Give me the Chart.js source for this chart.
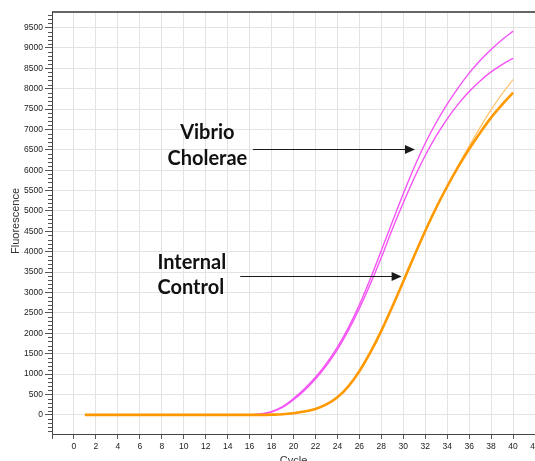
<!DOCTYPE html>
<html>
<head>
<meta charset="utf-8">
<script src="https://cdn.jsdelivr.net/npm/chart.js@4.4.0/dist/chart.umd.min.js"></script>
<style>
  html, body { margin: 0; padding: 0; background: #fff; overflow: hidden; }
</style>
</head>
<body>
<canvas id="graficoPcr" width="535" height="461"></canvas>
<script>
// ciclos da PCR (eixo x)
const ciclos = [1, 2, 3, 4, 5, 6, 7, 8, 9, 10, 11, 12, 13, 14, 15, 16, 17, 18, 19, 20,
  21, 22, 23, 24, 25, 26, 27, 28, 29, 30, 31, 32, 33, 34, 35, 36, 37, 38, 39, 40];

// fluorescencia
const controleInterno = [0, 0, 0, 0, 0, 0, 0, 0, 0, 0, 0, 0, 0, 0, 0, 0, 0, 5, 15, 40,
  80, 145, 255, 430, 700, 1070, 1530, 2060, 2650, 3270, 3900, 4510, 5080, 5600, 6080, 6520, 6920, 7290, 7610, 7900];
const controleInterno2 = [0, 0, 0, 0, 0, 0, 0, 0, 0, 0, 0, 0, 0, 0, 0, 0, 0, 5, 15, 40,
  80, 145, 255, 430, 700, 1070, 1530, 2060, 2650, 3270, 3900, 4510, 5080, 5610, 6110, 6590, 7050, 7480, 7870, 8220];
const vibrioA = [0, 0, 0, 0, 0, 0, 0, 0, 0, 0, 0, 0, 0, 0, 0, 0, 20, 80, 200, 400,
  640, 920, 1260, 1660, 2140, 2700, 3340, 4030, 4730, 5420, 6070, 6660, 7170, 7620, 8020, 8380, 8690, 8960, 9200, 9410];
const vibrioB = [0, 0, 0, 0, 0, 0, 0, 0, 0, 0, 0, 0, 0, 0, 0, 0, 15, 70, 180, 370,
  600, 880, 1210, 1600, 2070, 2610, 3210, 3860, 4550, 5200, 5810, 6360, 6840, 7260, 7620, 7930, 8190, 8410, 8590, 8740];

// ticks dos eixos
const ticksX = [-2, 0, 2, 4, 6, 8, 10, 12, 14, 16, 18, 20, 22, 24, 26, 28, 30, 32, 34, 36, 38, 40, 42];
const ticksY = [0, 500, 1000, 1500, 2000, 2500, 3000, 3500, 4000, 4500, 5000, 5500, 6000, 6500, 7000, 7500, 8000, 8500, 9000, 9500];

const pontos = (valores) => ciclos.map((c, i) => ({ x: c, y: valores[i] }));

// rotulos e setas (coordenadas em ciclo / fluorescencia)
const rotulos = [
  { texto: 'Vibrio', x: 12.15, y: 6930, align: 'center' },
  { texto: 'Cholerae', x: 12.15, y: 6290, align: 'center' },
  { texto: 'Internal', x: 7.6, y: 3746, align: 'left' },
  { texto: 'Control', x: 7.6, y: 3134, align: 'left' }
];
const setas = [
  { x1: 16.3, x2: 31.06, y: 6513 },
  { x1: 15.15, x2: 29.85, y: 3411 }
];

const anotacoes = {
  id: 'anotacoes',
  afterDatasetsDraw(chart) {
    const { ctx, chartArea, scales } = chart;
    const sx = scales.x, sy = scales.y;
    ctx.save();

    // borda superior
    ctx.strokeStyle = '#333';
    ctx.lineWidth = 1.5;
    ctx.beginPath();
    ctx.moveTo(chartArea.left, chartArea.top);
    ctx.lineTo(chartArea.right, chartArea.top);
    ctx.stroke();

    // ticks menores do eixo y
    ctx.strokeStyle = '#555';
    ctx.lineWidth = 1;
    for (let v = -400; v <= sy.max; v += 100) {
      if (v % 500 === 0) continue;
      const py = Math.round(sy.getPixelForValue(v)) + 0.5;
      ctx.beginPath();
      ctx.moveTo(chartArea.left - 4, py);
      ctx.lineTo(chartArea.left, py);
      ctx.stroke();
    }

    // setas
    ctx.strokeStyle = '#1a1a1a';
    ctx.fillStyle = '#1a1a1a';
    setas.forEach(s => {
      const xa = sx.getPixelForValue(s.x1);
      const xb = sx.getPixelForValue(s.x2);
      const py = Math.round(sy.getPixelForValue(s.y)) + 0.5;
      ctx.beginPath();
      ctx.moveTo(xa, py);
      ctx.lineTo(xb - 8, py);
      ctx.stroke();
      ctx.beginPath();
      ctx.moveTo(xb, py);
      ctx.lineTo(xb - 10, py - 4.5);
      ctx.lineTo(xb - 10, py + 4.5);
      ctx.closePath();
      ctx.fill();
    });

    // textos
    ctx.font = 'bold 20px Lato';
    ctx.fillStyle = '#111';
    ctx.textBaseline = 'middle';
    rotulos.forEach(r => {
      ctx.textAlign = r.align;
      ctx.fillText(r.texto, sx.getPixelForValue(r.x), sy.getPixelForValue(r.y));
    });

    // titulos dos eixos
    ctx.font = '11px "Liberation Sans"';
    ctx.fillStyle = '#333';
    ctx.textAlign = 'center';
    ctx.textBaseline = 'alphabetic';
    ctx.fillText('Cycle', (chartArea.left + chartArea.right) / 2, 464);
    ctx.translate(19, 221);
    ctx.rotate(-Math.PI / 2);
    ctx.fillText('Fluorescence', 0, 0);
    ctx.restore();
  }
};

const serie = (valores, cor, largura) => ({
  data: pontos(valores),
  borderColor: cor,
  borderWidth: largura,
  pointRadius: 0,
  fill: false,
  cubicInterpolationMode: 'monotone'
});

new Chart(document.getElementById('graficoPcr'), {
  type: 'line',
  data: {
    datasets: [
      serie(controleInterno, '#ff9900', 2.6),
      serie(controleInterno2, '#ffc46b', 1.2),
      serie(vibrioA, '#f552f5', 1.4),
      serie(vibrioB, '#f552f5', 1.4)
    ]
  },
  options: {
    responsive: false,
    devicePixelRatio: 1,
    animation: false,
    layout: { padding: { top: 12, left: 0, right: 0, bottom: 0 } },
    plugins: {
      legend: { display: false },
      tooltip: { enabled: false }
    },
    scales: {
      x: {
        type: 'linear',
        min: -2,
        max: 42,
        afterBuildTicks: s => { s.ticks = ticksX.map(v => ({ value: v })); },
        afterFit: s => { s.height = 27; s.paddingLeft = 0; s.paddingRight = 0; },
        grid: { color: '#e3e3e3', tickColor: '#555', tickLength: 5 },
        border: { color: '#444', width: 1 },
        ticks: {
          padding: 3,
          maxRotation: 0,
          autoSkip: false,
          color: '#222',
          font: { family: 'Liberation Sans', size: 8.5 },
          callback: v => (v === -2 ? '' : v)
        }
      },
      y: {
        min: -470,
        max: 9880,
        afterBuildTicks: s => { s.ticks = ticksY.map(v => ({ value: v })); },
        afterFit: s => { s.width = 52; s.paddingTop = 0; s.paddingBottom = 0; },
        grid: { color: '#e3e3e3', tickColor: '#555', tickLength: 7 },
        border: { color: '#444', width: 1 },
        ticks: {
          padding: 2,
          autoSkip: false,
          color: '#222',
          font: { family: 'Liberation Sans', size: 8.5 },
          callback: v => v
        }
      }
    }
  },
  plugins: [anotacoes]
});
</script>
</body>
</html>
